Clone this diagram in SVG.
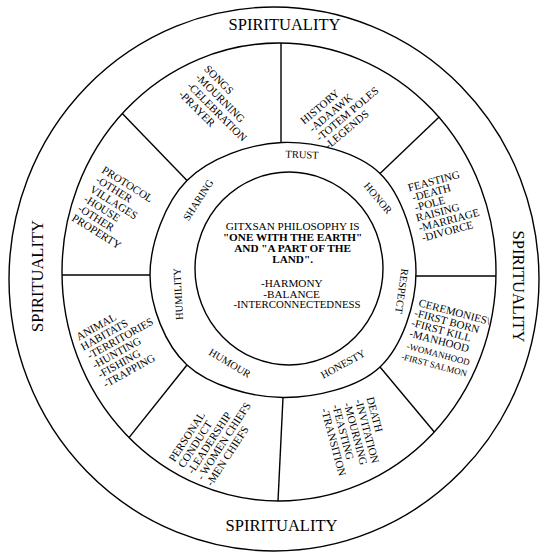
<svg xmlns="http://www.w3.org/2000/svg" width="548" height="558" viewBox="0 0 548 558">
<style>
.ln{fill:none;stroke:#000;stroke-width:1.4}
text{font-family:"Liberation Serif","Times New Roman",serif;fill:#000}
.sp{font-size:16.5px}
.ring{font-size:10.5px}
.sec{font-size:11px}
.sm{font-size:9px}
.ctr{font-size:11.2px}
.b{font-weight:bold}
</style>
<rect width="548" height="558" fill="#fff"/>
<g id="rings">
<ellipse class="ln" cx="274" cy="279" rx="265" ry="272"/>
<ellipse class="ln" cx="279" cy="272" rx="217" ry="229"/>
<path class="ln" d="M282,142.5 C314.2,141.3 357.7,151.9 380,173.5 C402.3,195.1 416,239.75 416,272 C416,304.25 402.2,346.1 380,367 C357.8,387.9 315.2,397.8 283,397.5 C250.8,397.2 209.2,385.4 187,365 C164.8,344.6 150,305.75 150,275 C150,244.25 165,202.6 187,180.5 C209,158.4 249.8,143.7 282,142.5 Z"/>
<ellipse class="ln" cx="289" cy="268.5" rx="94" ry="96.5"/>
</g>
<g id="connectors">
<line class="ln" x1="281" y1="142.5" x2="281" y2="43"/>
<line class="ln" x1="187" y1="180.5" x2="122.3" y2="113.4"/>
<line class="ln" x1="380" y1="173.5" x2="439.4" y2="116.8"/>
<line class="ln" x1="416" y1="276" x2="496" y2="276"/>
<line class="ln" x1="380" y1="367" x2="434.3" y2="432"/>
<line class="ln" x1="283" y1="397.5" x2="278" y2="501"/>
<line class="ln" x1="187" y1="365" x2="129" y2="437.6"/>
<line class="ln" x1="150" y1="275" x2="62" y2="275"/>
</g>
<g id="spirituality">
<text class="sp" x="284.5" y="30" text-anchor="middle">SPIRITUALITY</text>
<text class="sp" transform="translate(43,276) rotate(-90)" text-anchor="middle">SPIRITUALITY</text>
<text class="sp" transform="translate(513,286.5) rotate(90)" text-anchor="middle">SPIRITUALITY</text>
<text class="sp" x="281.5" y="531" text-anchor="middle">SPIRITUALITY</text>
</g>
<g id="center">
<text class="ctr" text-anchor="middle">
<tspan x="294" y="229.5">GITXSAN PHILOSOPHY IS</tspan>
<tspan class="b" x="294" y="240.5">"ONE WITH THE EARTH"</tspan>
<tspan class="b" x="294" y="251.5">AND "A PART OF THE</tspan>
<tspan class="b" x="294" y="262.5">LAND".</tspan>
<tspan x="293" y="286.5">-HARMONY</tspan>
<tspan x="293" y="297.5">-BALANCE</tspan>
<tspan x="297" y="308" font-size="10.8">-INTERCONNECTEDNESS</tspan>
</text>
</g>
<g id="values">
<text class="ring" transform="translate(302,154.5) rotate(2)" text-anchor="middle" dy="0.35em">TRUST</text>
<text class="ring" transform="translate(378,198) rotate(50)" text-anchor="middle" dy="0.35em">HONOR</text>
<text class="ring" transform="translate(402,291) rotate(98)" text-anchor="middle" dy="0.35em">RESPECT</text>
<text class="ring" transform="translate(343,364) rotate(-29)" text-anchor="middle" dy="0.35em">HONESTY</text>
<text class="ring" transform="translate(230,363) rotate(31)" text-anchor="middle" dy="0.35em">HUMOUR</text>
<text class="ring" transform="translate(178,294) rotate(-93)" text-anchor="middle" dy="0.35em">HUMILITY</text>
<text class="ring" transform="translate(198,200) rotate(-57)" text-anchor="middle" dy="0.35em">SHARING</text>
</g>
<g id="sector-songs">
<text class="sec" transform="translate(203.5,69.5) rotate(45)"><tspan x="0">SONGS</tspan><tspan x="0" dy="12">-MOURNING</tspan><tspan x="0" dy="12">-CELEBRATION</tspan><tspan x="0" dy="12">-PRAYER</tspan></text>
</g>
<g id="sector-history">
<text class="sec" transform="translate(304.3,124.8) rotate(-40)"><tspan x="0">HISTORY</tspan><tspan x="1.5" dy="11.5">-ADAAWK</tspan><tspan x="1" dy="11.5">-TOTEM POLES</tspan><tspan x="2.5" dy="11.5">-LEGENDS</tspan></text>
</g>
<g id="sector-feasting">
<text class="sec" transform="translate(409,191.5) rotate(-15)"><tspan x="0">FEASTING</tspan><tspan x="1.5" dy="10.4">-DEATH</tspan><tspan x="1.4" dy="10.4">-POLE</tspan><tspan x="0" dy="10.4">RAISING</tspan><tspan x="0" dy="10.4">-MARRIAGE</tspan><tspan x="0.6" dy="10.4">-DIVORCE</tspan></text>
</g>
<g id="sector-ceremonies">
<text class="sec" transform="translate(418,306) rotate(15)"><tspan x="0">CEREMONIES\</tspan><tspan x="-1.5" dy="10.7">-FIRST BORN</tspan><tspan x="-1.8" dy="10.4">-FIRST KILL</tspan><tspan x="-1" dy="10.7">-MANHOOD</tspan><tspan class="sm" x="-0.5" dy="12.5">-WOMANHOOD</tspan><tspan class="sm" x="-3" dy="11.5">-FIRST SALMON</tspan></text>
</g>
<g id="sector-death">
<text class="sec" transform="translate(366.5,398) rotate(75)"><tspan x="0">DEATH</tspan><tspan x="-0.5" dy="11.7">-INVITATION</tspan><tspan x="-0.4" dy="11.7">-MOURNING</tspan><tspan x="-1.5" dy="11.7">-FEASTING</tspan><tspan x="-0.7" dy="11.7">-TRANSITION</tspan></text>
</g>
<g id="sector-personal">
<text class="sec" transform="translate(174.5,462.5) rotate(-57)"><tspan x="0">PERSONAL</tspan><tspan x="0" dy="11.1">CONDUCT</tspan><tspan x="0" dy="11.1">-LEADERSHIP</tspan><tspan x="0" dy="11.1">- WOMEN CHIEFS</tspan><tspan x="0" dy="11.1">-MEN CHIEFS</tspan></text>
</g>
<g id="sector-animal">
<text class="sec" transform="translate(78.7,340.7) rotate(-29)"><tspan x="0">ANIMAL</tspan><tspan x="-0.9" dy="10.9">HABITATS</tspan><tspan x="0.5" dy="10.9">-TERRITORIES</tspan><tspan x="0.4" dy="10.9">-HUNTING</tspan><tspan x="0.5" dy="10.9">-FISHING</tspan><tspan x="0.8" dy="10.9">-TRAPPING</tspan></text>
</g>
<g id="sector-protocol">
<text class="sec" transform="translate(101,172) rotate(32)"><tspan x="0">PROTOCOL</tspan><tspan x="0" dy="11.3">-OTHER</tspan><tspan x="0" dy="11.3">VILLAGES</tspan><tspan x="0" dy="11.3">-HOUSE</tspan><tspan x="0" dy="11.3">-OTHER</tspan><tspan x="0" dy="11.3">PROPERTY</tspan></text>
</g>
</svg>
